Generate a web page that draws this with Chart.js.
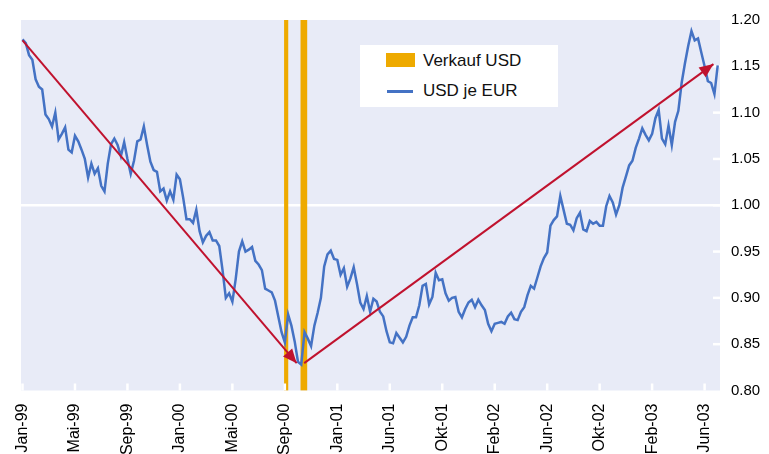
<!DOCTYPE html>
<html lang="de">
<head>
<meta charset="UTF-8">
<title>USD je EUR</title>
<script src="https://cdn.jsdelivr.net/npm/chart.js"></script>
<style>
    html, body { margin: 0; padding: 0; background: #fff; }
    .wrap { position: relative; width: 769px; height: 454px; }
    #grafik { display: block; }
    #legende {
        position: absolute; left: 360px; top: 45px; width: 198px; height: 62px;
        background: #fff; font-family: "Liberation Sans", Arial, sans-serif;
        font-size: 17px; line-height: 18px; color: #111;
    }
    #legende span { position: absolute; white-space: nowrap; }
    .feld { left: 26px; top: 8px; width: 29px; height: 14px; background: #eeaa00; }
    .linie { left: 27px; top: 45px; width: 26px; height: 2.5px; background: #4472c4; }
    .t1 { left: 63px; top: 7px; }
    .t2 { left: 63px; top: 37px; }
</style>
</head>
<body>
<div class="wrap">
    <canvas id="grafik" width="769" height="454"></canvas>
    <div id="legende">
        <span class="feld"></span><span class="t1">Verkauf USD</span>
        <span class="linie"></span><span class="t2">USD je EUR</span>
    </div>
</div>

<script>
    // Achsenbeschriftung (alle 16 Datenpunkte eine Marke)
    const tickLabels = ["Jan-99", "Mai-99", "Sep-99", "Jan-00", "Mai-00", "Sep-00", "Jan-01",
        "Jun-01", "Okt-01", "Feb-02", "Jun-02", "Okt-02", "Feb-03", "Jun-03"];
    const punkteJeMarke = 16;

    // Wechselkurs USD je EUR
    const usdJeEur = [
        1.179, 1.175, 1.162, 1.157, 1.136, 1.128, 1.125, 1.098, 1.093, 1.085,
        1.100, 1.071, 1.077, 1.084, 1.060, 1.057, 1.075, 1.069, 1.060, 1.050,
        1.030, 1.045, 1.034, 1.040, 1.021, 1.015, 1.045, 1.066, 1.072, 1.065,
        1.053, 1.068, 1.050, 1.034, 1.048, 1.069, 1.071, 1.085, 1.065, 1.047,
        1.038, 1.036, 1.015, 1.018, 1.005, 1.015, 1.006, 1.033, 1.028, 1.008,
        0.985, 0.985, 0.981, 0.995, 0.972, 0.960, 0.967, 0.971, 0.962, 0.962,
        0.956, 0.930, 0.900, 0.905, 0.896, 0.920, 0.950, 0.961, 0.950, 0.952,
        0.955, 0.940, 0.936, 0.930, 0.910, 0.908, 0.906, 0.897, 0.880, 0.863,
        0.852, 0.882, 0.870, 0.853, 0.831, 0.828, 0.863, 0.856, 0.848, 0.870,
        0.884, 0.900, 0.934, 0.947, 0.951, 0.942, 0.941, 0.925, 0.932, 0.912,
        0.921, 0.933, 0.915, 0.895, 0.888, 0.902, 0.885, 0.899, 0.896, 0.885,
        0.880, 0.864, 0.852, 0.851, 0.862, 0.857, 0.852, 0.858, 0.870, 0.879,
        0.879, 0.892, 0.913, 0.915, 0.893, 0.901, 0.927, 0.919, 0.920, 0.905,
        0.897, 0.900, 0.901, 0.885, 0.879, 0.888, 0.895, 0.898, 0.890, 0.898,
        0.892, 0.887, 0.872, 0.864, 0.872, 0.873, 0.874, 0.872, 0.880, 0.884,
        0.877, 0.876, 0.885, 0.890, 0.903, 0.913, 0.910, 0.922, 0.934, 0.943,
        0.949, 0.978, 0.984, 0.988, 1.010, 0.995, 0.980, 0.979, 0.973, 0.986,
        0.992, 0.974, 0.972, 0.983, 0.980, 0.982, 0.978, 0.978, 0.999, 1.010,
        1.003, 0.990, 1.000, 1.019, 1.031, 1.043, 1.048, 1.062, 1.072, 1.083,
        1.076, 1.070, 1.077, 1.094, 1.103, 1.072, 1.066, 1.086, 1.065, 1.090,
        1.102, 1.132, 1.153, 1.172, 1.188, 1.178, 1.180, 1.165, 1.150, 1.134,
        1.132, 1.120, 1.151
    ];

    // Zeitpunkte der USD-Verkaeufe (Datenpunkt-Index)
    const verkaufUsd = [80.4, 85.8];

    // Trendpfeile: Start und Ende (Index, Kurs)
    const pfeilAbX = [0, 83.6];
    const pfeilAbY = [1.178, 0.8295];
    const pfeilAufX = [85.9, 210.7];
    const pfeilAufY = [0.8295, 1.1524];

    const orange = "#eeaa00";
    const blau = "#4472c4";
    const rot = "#c0122e";
    const schrift = "'Liberation Sans', Arial, sans-serif";

    Chart.defaults.font.family = schrift;
    Chart.defaults.color = "#000";

    // Hintergrund der Zeichenflaeche
    const hintergrund = {
        id: "hintergrund",
        beforeDraw(chart) {
            const { ctx, chartArea: a } = chart;
            ctx.save();
            ctx.fillStyle = "#e8ebf7";
            ctx.fillRect(a.left, a.top, a.right - a.left, a.bottom - a.top);
            ctx.restore();
        }
    };

    // kleine weisse Marken innen an den Achsen
    const innenMarken = {
        id: "innenMarken",
        beforeDatasetDraw(chart, args) {
            if (args.index !== 0) return;
            const { ctx, chartArea: a, scales: { x, y } } = chart;
            ctx.save();
            ctx.fillStyle = "#fff";
            y.ticks.forEach(t => {
                if (t.value <= 0.8001 || t.value >= 1.1999) return;
                const py = y.getPixelForValue(t.value);
                ctx.fillRect(a.right - 7, py - 1.25, 7, 2.5);
            });
            x.ticks.forEach(t => {
                if (!tickLabels[t.value / punkteJeMarke]) return;
                const px = x.getPixelForValue(t.value);
                ctx.fillRect(px - 1.25, a.bottom - 7, 2.5, 7);
            });
            ctx.restore();
        }
    };

    // Pfeilspitzen am Ende der Trendlinien
    const pfeilSpitzen = {
        id: "pfeilSpitzen",
        afterDatasetsDraw(chart) {
            const ctx = chart.ctx;
            chart.data.datasets.forEach((ds, i) => {
                if (!ds.pfeil) return;
                const pts = chart.getDatasetMeta(i).data;
                const p0 = pts[pts.length - 2], p1 = pts[pts.length - 1];
                const w = Math.atan2(p1.y - p0.y, p1.x - p0.x);
                const len = 14, halb = 6;
                ctx.save();
                ctx.fillStyle = rot;
                ctx.translate(p1.x, p1.y);
                ctx.rotate(w);
                ctx.beginPath();
                ctx.moveTo(0, 0);
                ctx.lineTo(-len, -halb);
                ctx.lineTo(-len, halb);
                ctx.closePath();
                ctx.fill();
                ctx.restore();
            });
        }
    };

    const kursDaten = usdJeEur.map((v, i) => ({ x: i, y: v }));
    const pfeilAb = pfeilAbX.map((x, i) => ({ x: x, y: pfeilAbY[i] }));
    const pfeilAuf = pfeilAufX.map((x, i) => ({ x: x, y: pfeilAufY[i] }));

    new Chart(document.getElementById("grafik"), {
        type: "line",
        data: {
            datasets: [
                {
                    label: "USD je EUR",
                    data: kursDaten,
                    borderColor: blau,
                    borderWidth: 2.5,
                    pointRadius: 0,
                    tension: 0,
                    order: 2
                },
                {
                    label: "Trend 1",
                    data: pfeilAb,
                    borderColor: rot,
                    borderWidth: 2,
                    pointRadius: 0,
                    pfeil: true,
                    order: 1
                },
                {
                    label: "Trend 2",
                    data: pfeilAuf,
                    borderColor: rot,
                    borderWidth: 2,
                    pointRadius: 0,
                    pfeil: true,
                    order: 1
                },
                {
                    type: "bar",
                    label: "Verkauf USD",
                    data: [{ x: verkaufUsd[0], y: [0.8, 1.2] }],
                    backgroundColor: orange,
                    barThickness: 3.5,
                    grouped: false,
                    order: 4
                },
                {
                    type: "bar",
                    label: "Verkauf USD",
                    data: [{ x: verkaufUsd[1], y: [0.8, 1.2] }],
                    backgroundColor: orange,
                    barThickness: 6,
                    grouped: false,
                    order: 4
                }
            ]
        },
        options: {
            responsive: false,
            animation: false,
            layout: { padding: { left: 21, top: 18, right: 0, bottom: 0 } },
            plugins: {
                legend: { display: false },
                tooltip: { enabled: false }
            },
            scales: {
                x: {
                    type: "linear",
                    min: -0.46,
                    max: 212.7,
                    offset: false,
                    afterFit: s => { s.height = 63.5; },
                    grid: { display: false },
                    border: { display: false },
                    ticks: {
                        stepSize: punkteJeMarke,
                        includeBounds: false,
                        autoSkip: false,
                        minRotation: 90,
                        maxRotation: 90,
                        padding: 5,
                        color: "#000",
                        font: { size: 16 },
                        callback: v => tickLabels[v / punkteJeMarke] || ""
                    }
                },
                y: {
                    position: "right",
                    min: 0.8,
                    max: 1.2,
                    afterFit: s => { s.width = 49; },
                    grid: {
                        drawTicks: false,
                        color: c => Math.abs(c.tick.value - 1) < 1e-6 ? "#fff" : "rgba(0,0,0,0)",
                        lineWidth: 2.5
                    },
                    border: { display: false },
                    ticks: {
                        stepSize: 0.05,
                        padding: 11,
                        color: "#000",
                        font: { size: 15 },
                        callback: v => v.toFixed(2)
                    }
                }
            }
        },
        plugins: [hintergrund, innenMarken, pfeilSpitzen]
    });
</script>
</body>
</html>
